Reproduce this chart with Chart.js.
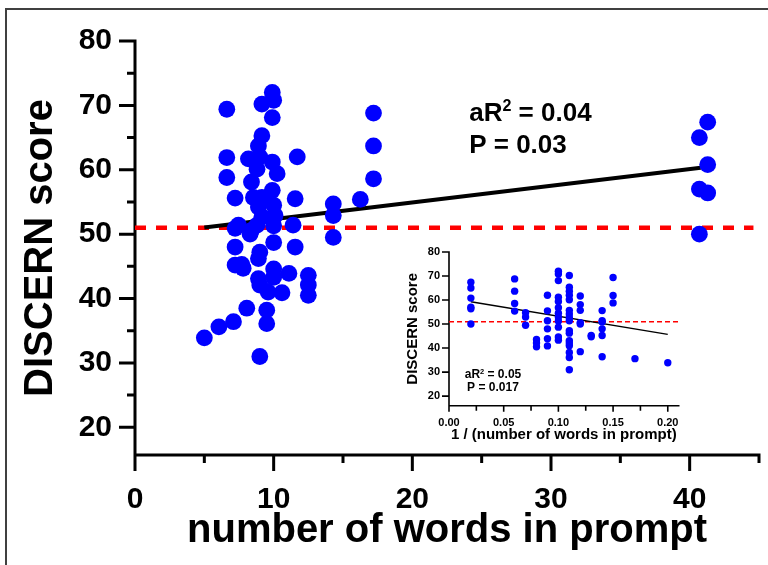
<!DOCTYPE html>
<html><head><meta charset="utf-8">
<script src="https://cdn.jsdelivr.net/npm/chart.js@4.4.1/dist/chart.umd.min.js"></script>
<style>
html,body{margin:0;padding:0;background:#fff;}
#wrap{position:relative;width:768px;height:565px;overflow:hidden;background:#fff;}
#frame{position:absolute;left:5px;top:8px;width:800px;height:600px;border-top:2px solid #404040;border-left:2px solid #404040;}
#main{position:absolute;left:0;top:0;width:768px;height:565px;}
#inset{position:absolute;left:380px;top:232px;width:310px;height:220px;}
</style></head><body>
<div id="wrap"><div id="frame"></div>
<canvas id="main" width="768" height="565"></canvas>
<canvas id="inset" width="310" height="220"></canvas>
</div>
<script>
// ---- data (main panel) ----
const words = [41.3,40.7,41.3,40.7,41.3,40.7,
  17.2,17.2,17.2,16.25,
  14.3,14.3,14.3,
  12.5,12.5,12.5,
  11.7,11.55,11.4,11.55,11.1,10.6,
  9.9,10.0,9.9,9.9,10.25,9.9,10.0,10.1,10.0,10.0,10.0,10.0,
  9.15,9.15,8.9,9.0,8.8,9.15,8.9,9.15,8.8,9.0,8.9,8.9,9.0,9.6,9.5,9.5,9.0,
  8.18,8.4,8.54,8.4,8.3,8.06,
  7.8,7.7,
  7.22,7.46,7.22,7.22,7.22,7.1,
  6.62,6.62,6.62,
  6.05,
  5.0];
const discern = [67.4,65.0,60.8,57.0,56.4,50.0,
  68.8,63.7,58.6,55.4,
  54.7,52.9,49.5,
  43.6,42.1,40.5,
  62.0,55.5,51.4,48.0,43.9,40.9,
  72.0,70.8,68.1,61.2,59.4,56.8,54.5,52.9,51.3,48.7,44.6,43.3,
  70.2,65.3,63.7,62.0,60.1,55.7,54.2,52.7,51.4,47.2,46.2,43.1,42.1,41.0,38.2,36.1,31.0,
  61.7,58.1,55.7,50.6,50.0,38.5,
  44.7,45.3,
  55.6,51.4,50.9,48.0,45.2,36.4,
  69.4,61.9,58.8,
  35.6,
  33.9];
// ---- data (inset: 1 / number of words) ----
const recipWords = [0.02,0.02,0.02,0.02,0.02,0.02,
  0.06,0.06,0.06,0.06,
  0.07,0.07,0.07,
  0.08,0.08,0.08,
  0.09,0.09,0.09,0.09,0.09,0.09,
  0.10,0.10,0.10,0.10,0.10,0.10,0.10,0.10,0.10,0.10,0.10,0.10,
  0.11,0.11,0.11,0.11,0.11,0.11,0.11,0.11,0.11,0.11,0.11,0.11,0.11,0.11,0.11,0.11,0.11,
  0.12,0.12,0.12,0.12,0.12,0.12,
  0.13,0.13,
  0.14,0.14,0.14,0.14,0.14,0.14,
  0.15,0.15,0.15,
  0.17,
  0.20];
// regression lines and cut-off
const mainFitX = [5.0, 40.8];
const mainFitY = [51.05, 60.3];
const insetFitX = [0.02, 0.20];
const insetFitY = [59.3, 45.7];
const cutoff = 51;
const mainRefX = [0, 44.6];
const insetRefX = [0, 0.21];
// ticks
const mainXTicks = [0,10,20,30,40];
const mainXMinor = [5,15,25,35,45];
const mainYTicks = [20,30,40,50,60,70,80];
const mainYMinor = [25,35,45,55,65,75];
const insetXTicks = [0,0.05,0.10,0.15,0.20];
const insetXMinor = [0.025,0.075,0.125,0.175];
const insetYTicks = [20,30,40,50,60,70,80];
// annotations
const mainStats = ['0.04','0.03'];
const insetStats = ['0.05','0.017'];

const FAM = "'Liberation Sans', Arial, Helvetica, sans-serif";

function axesPlugin(o){
  return {id:'axes_'+o.id, beforeDatasetsDraw(chart){
    const ctx = chart.ctx, xs = chart.scales.x, ys = chart.scales.y;
    const L = xs.getPixelForValue(xs.min), R = xs.getPixelForValue(xs.max);
    const B = ys.getPixelForValue(ys.min), T = ys.getPixelForValue(ys.max);
    ctx.save();
    ctx.strokeStyle = '#000'; ctx.lineWidth = o.lw; ctx.lineCap = 'butt';
    ctx.beginPath();
    ctx.moveTo(L, T - o.lw/2); ctx.lineTo(L, B + o.xMajor);
    ctx.moveTo(L - o.lw/2, B); ctx.lineTo(R + o.lw/2, B);
    o.yTicks.forEach(v=>{ const p = ys.getPixelForValue(v); ctx.moveTo(L - o.yMajor, p); ctx.lineTo(L, p); });
    (o.yMinor||[]).forEach(v=>{ const p = ys.getPixelForValue(v); ctx.moveTo(L - o.yMinorLen, p); ctx.lineTo(L, p); });
    o.xTicks.forEach(v=>{ if (v === xs.min) return; const p = xs.getPixelForValue(v); ctx.moveTo(p, B); ctx.lineTo(p, B + o.xMajor); });
    (o.xMinor||[]).forEach(v=>{ const p = xs.getPixelForValue(v); ctx.moveTo(p, B); ctx.lineTo(p, B + o.xMinorLen); });
    ctx.stroke();
    ctx.restore();
  }};
}

function drawRich(ctx, parts, x, y, size, align){
  let w = 0;
  parts.forEach(p=>{ ctx.font = 'bold ' + (size*p.s) + 'px ' + FAM; p.w = ctx.measureText(p.t).width; w += p.w; });
  let cx = align === 'center' ? x - w/2 : x;
  ctx.textBaseline = 'alphabetic'; ctx.textAlign = 'left'; ctx.fillStyle = '#000';
  parts.forEach(p=>{ ctx.font = 'bold ' + (size*p.s) + 'px ' + FAM; ctx.fillText(p.t, cx, y - (p.up||0)*size); cx += p.w; });
}

function statsPlugin(o){
  return {id:'stats_'+o.id, afterDatasetsDraw(chart){
    const ctx = chart.ctx, xs = chart.scales.x, ys = chart.scales.y;
    const px = xs.getPixelForValue(o.x);
    const size = o.size;
    ctx.save();
    drawRich(ctx, [{t:'aR',s:1},{t:'2',s:0.62,up:0.38},{t:' = ' + o.stats[0],s:1}], px, ys.getPixelForValue(o.y1) + 0.36*size, size, o.align);
    drawRich(ctx, [{t:'P = ' + o.stats[1],s:1}], px, ys.getPixelForValue(o.y2) + 0.36*size, size, o.align);
    ctx.restore();
  }};
}

const pts = (xa, ya) => xa.map((v,i)=>({x:v, y:ya[i]}));

// ---- main chart ----
new Chart(document.getElementById('main'), {
  type: 'scatter',
  data: { datasets: [
    { data: pts(words, discern), backgroundColor:'#0000ff', borderWidth:0, pointRadius:8.4, pointHoverRadius:8.4 },
    { type:'line', data: pts(mainFitX, mainFitY), borderColor:'#000', borderWidth:4, pointRadius:0, fill:false },
    { type:'line', data: pts(mainRefX, [cutoff, cutoff]), borderColor:'#ff0000', borderWidth:4.5, borderDash:[11,10], pointRadius:0, fill:false }
  ]},
  options: {
    responsive:false, animation:false, events:[],
    plugins:{ legend:{display:false}, tooltip:{enabled:false} },
    layout:{ padding:{left:0, top:40, right:9, bottom:0} },
    scales:{
      x:{ type:'linear', min:0, max:45,
        grid:{display:false, drawTicks:false, tickLength:0}, border:{display:false},
        afterBuildTicks: s=>{ s.ticks = mainXTicks.map(v=>({value:v})); },
        afterFit: s=>{ s.height = 110; },
        ticks:{ padding:27, color:'#000', autoSkip:false, maxRotation:0, font:{family:FAM, size:30, weight:'bold'}, callback:v=>String(v) },
        title:{ display:true, text:'number of words in prompt', color:'#000', font:{family:FAM, size:40, weight:'bold'}, padding:{top:0, bottom:10} }
      },
      y:{ type:'linear', min:15.7, max:80,
        grid:{display:false, drawTicks:false, tickLength:0}, border:{display:false},
        afterBuildTicks: s=>{ s.ticks = mainYTicks.map(v=>({value:v})); },
        afterFit: s=>{ s.width = 135; },
        ticks:{ padding:23, color:'#000', autoSkip:false, font:{family:FAM, size:30, weight:'bold'}, callback:v=>String(v) },
        title:{ display:true, text:'DISCERN score', color:'#000', font:{family:FAM, size:40, weight:'bold'}, padding:{top:16.5, bottom:0} }
      }
    }
  },
  plugins:[
    axesPlugin({id:'m', lw:3, yTicks:mainYTicks, yMinor:mainYMinor, xTicks:mainXTicks, xMinor:mainXMinor, yMajor:16, yMinorLen:8, xMajor:16, xMinorLen:8}),
    statsPlugin({id:'m', x:24.1, y1:69.0, y2:64.0, size:26, align:'left', stats:mainStats})
  ]
});

// ---- inset chart ----
new Chart(document.getElementById('inset'), {
  type: 'scatter',
  data: { datasets: [
    { data: pts(recipWords, discern), backgroundColor:'#0000ff', borderWidth:0, pointRadius:3.7, pointHoverRadius:3.7 },
    { type:'line', data: pts(insetFitX, insetFitY), borderColor:'#000', borderWidth:1.5, pointRadius:0, fill:false },
    { type:'line', data: pts(insetRefX, [cutoff, cutoff]), borderColor:'#ff0000', borderWidth:1.5, borderDash:[5,3], pointRadius:0, fill:false }
  ]},
  options: {
    responsive:false, animation:false, events:[],
    plugins:{ legend:{display:false}, tooltip:{enabled:false} },
    layout:{ padding:{left:0, top:20, right:11, bottom:0} },
    scales:{
      x:{ type:'linear', min:0, max:0.21,
        grid:{display:false, drawTicks:false, tickLength:0}, border:{display:false},
        afterBuildTicks: s=>{ s.ticks = insetXTicks.map(v=>({value:v})); },
        afterFit: s=>{ s.height = 46.3; },
        ticks:{ padding:11, color:'#000', autoSkip:false, maxRotation:0, font:{family:FAM, size:11, weight:'bold'}, callback:v=>Number(v).toFixed(2) },
        title:{ display:true, text:'1 / (number of words in prompt)', color:'#000', font:{family:FAM, size:15, weight:'bold'}, padding:{top:0, bottom:8.4} }
      },
      y:{ type:'linear', min:16, max:80,
        grid:{display:false, drawTicks:false, tickLength:0}, border:{display:false},
        afterBuildTicks: s=>{ s.ticks = insetYTicks.map(v=>({value:v})); },
        afterFit: s=>{ s.width = 69; },
        ticks:{ padding:9, color:'#000', autoSkip:false, font:{family:FAM, size:11, weight:'bold'}, callback:v=>String(v) },
        title:{ display:true, text:'DISCERN score', color:'#000', font:{family:FAM, size:15, weight:'bold'}, padding:{top:24, bottom:0} }
      }
    }
  },
  plugins:[
    axesPlugin({id:'i', lw:1.6, yTicks:insetYTicks, yMinor:[], xTicks:insetXTicks, xMinor:insetXMinor, yMajor:7, yMinorLen:4, xMajor:6, xMinorLen:5}),
    statsPlugin({id:'i', x:0.0402, y1:29.2, y2:23.75, size:12, align:'center', stats:insetStats})
  ]
});
</script>
</body></html>
